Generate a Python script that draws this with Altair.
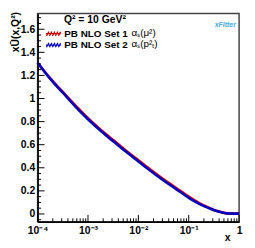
import altair as alt
import pandas as pd

# ---- data ----
x_vals = [1e-4, 1.78e-4, 3.16e-4, 5.62e-4, 1e-3, 1.78e-3, 3.16e-3, 5.62e-3,
          1e-2, 1.78e-2, 3.16e-2, 5.62e-2, 1e-1, 0.158, 0.251, 0.355, 0.501,
          0.631, 0.794, 1.0]
set1_vals = [1.31, 1.175, 1.057, 0.94, 0.83, 0.73, 0.64, 0.55, 0.465, 0.38,
             0.30, 0.225, 0.15, 0.097, 0.055, 0.027, 0.010, 0.004, 0.003, 0.003]
set2_vals = [1.31, 1.17, 1.05, 0.93, 0.82, 0.72, 0.63, 0.54, 0.455, 0.37,
             0.29, 0.215, 0.14, 0.09, 0.05, 0.025, 0.009, 0.004, 0.003, 0.003]
series_names = ["PB NLO Set 1", "PB NLO Set 2"]
series_colors = ["#cc0000", "#0000c0"]

y_major = [0, 0.2, 0.4, 0.6, 0.8, 1.0, 1.2, 1.4, 1.6]
y_minor = [round(-0.05 + 0.05 * i, 2) for i in range(37)]
y_minor = [v for v in y_minor if all(abs(v - m) > 1e-6 for m in y_major) and v <= 1.72]
x_major = [1e-4, 1e-3, 1e-2, 1e-1, 1.0]
x_minor = [k * 10.0 ** d for d in range(-4, 0) for k in range(2, 10)]

header_text = "Q² = 10 GeV²"
alpha_texts = ["αₛ(μ²)", "αₛ(p²ₜ)"]
y_title = "xU\u0304(x,Q²)"

W, H = 204, 211
FONT = "Liberation Sans"

rows = []
for name, vals in zip(series_names, [set1_vals, set2_vals]):
    for xv, yv in zip(x_vals, vals):
        rows.append({"x": xv, "val": yv, "set": name})
df = pd.DataFrame(rows)

xscale = alt.Scale(type="log", domain=[1e-4, 1.0], nice=False)
yscale = alt.Scale(domain=[-0.068, 1.737], nice=False, zero=False)

sym_path = ("M-1.5,0L1.5,0 M-1.4,0.45L-0.9,-0.45 M-0.8,0.45L-0.3,-0.45 "
            "M-0.2,0.45L0.3,-0.45 M0.4,0.45L0.9,-0.45 M1.0,0.45L1.45,-0.35")

x_axis = alt.Axis(values=x_major, ticks=False, grid=False, domainColor="black",
                  domainWidth=1.5, labelFont=FONT, labelFontWeight="bold",
                  labelFontSize=10.5, labelColor="black", labelPadding=4,
                  labelFlush=False, labelOverlap=False,
                  labelExpr="datum.value >= 1 ? '1' : '10' + ['⁻⁴','⁻³','⁻²','⁻¹'][round(log(datum.value)/LN10)+4]",
                  title="x", titleFont=FONT, titleFontWeight="bold",
                  titleFontSize=10.5, titleColor="black", titleX=192,
                  titleY=19, titleAlign="center", titleBaseline="alphabetic")
y_axis = alt.Axis(values=y_major, ticks=False, grid=False, domainColor="black",
                  domainWidth=1.5, labelFont=FONT, labelFontWeight="bold",
                  labelFontSize=10.5, labelColor="black", labelPadding=3,
                  labelFlush=False, labelOverlap=False,
                  labelExpr="format(datum.value, '~g')",
                  title=y_title, titleFont=FONT, titleFontWeight="bold",
                  titleFontSize=10.5, titleColor="black", titleAngle=270,
                  titleX=-17, titleY=-2, titleAlign="right",
                  titleBaseline="bottom")

lines = alt.Chart(df).mark_line(strokeWidth=2.6, interpolate="monotone").encode(
    x=alt.X("x:Q", scale=xscale, axis=x_axis),
    y=alt.Y("val:Q", scale=yscale, axis=y_axis),
    color=alt.Color("set:N", scale=alt.Scale(domain=series_names, range=series_colors),
                    legend=alt.Legend(orient="none", legendX=10, legendY=14.5,
                                      title=None, padding=0, symbolType=sym_path,
                                      symbolSize=100, symbolStrokeWidth=1.3,
                                      labelOffset=5, rowPadding=0.5,
                                      labelFont=FONT, labelFontWeight="bold",
                                      labelFontSize=10, labelColor="black",
                                      labelLimit=300)),
    order=alt.Order("x:Q"),
)

ymaj = alt.Chart(pd.DataFrame({"val": y_major})).mark_rule(
    color="black", strokeWidth=1).encode(
    y=alt.Y("val:Q", scale=yscale, axis=y_axis), x=alt.value(0), x2=alt.value(7))
ymin = alt.Chart(pd.DataFrame({"val": y_minor})).mark_rule(color="black", strokeWidth=1).encode(
    y=alt.Y("val:Q", scale=yscale, axis=y_axis), x=alt.value(0), x2=alt.value(3.5))
xmaj = alt.Chart(pd.DataFrame({"x": x_major})).mark_rule(color="black", strokeWidth=1).encode(
    x=alt.X("x:Q", scale=xscale, axis=x_axis), y=alt.value(H), y2=alt.value(H - 7))
xmin = alt.Chart(pd.DataFrame({"x": x_minor})).mark_rule(color="black", strokeWidth=1).encode(
    x=alt.X("x:Q", scale=xscale, axis=x_axis), y=alt.value(H), y2=alt.value(H - 3.5))

header = alt.Chart().mark_text(font=FONT, fontWeight="bold", fontSize=10.5,
                               align="center", baseline="middle", color="black").encode(
    x=alt.value(58), y=alt.value(7), text=alt.value(header_text))
alpha1 = alt.Chart().mark_text(font=FONT, fontSize=10, align="left",
                               baseline="middle", color="black").encode(
    x=alt.value(95), y=alt.value(20), text=alt.value(alpha_texts[0]))
alpha2 = alt.Chart().mark_text(font=FONT, fontSize=10, align="left",
                               baseline="middle", color="black").encode(
    x=alt.value(95), y=alt.value(31), text=alt.value(alpha_texts[1]))
logo = alt.Chart().mark_text(font=FONT, fontStyle="italic", fontWeight="bold",
                             fontSize=7, align="center", baseline="middle",
                             color="#3fa9e0").encode(
    x=alt.value(190), y=alt.value(12), text=alt.value("xFitter"))

chart = alt.layer(lines, ymaj, ymin, xmaj, xmin, header, alpha1, alpha2, logo).properties(
    width=W, height=H,
    autosize=alt.AutoSizeParams(type="none"),
    padding={"left": 30, "top": 4, "right": 8, "bottom": 22},
).configure_view(stroke="#444444", strokeWidth=1.5)

chart.save("out.html", embed_options={"renderer": "svg", "actions": False})
